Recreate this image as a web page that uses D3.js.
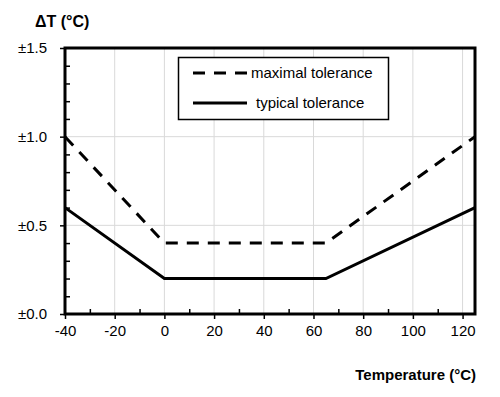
<!DOCTYPE html>
<html>
<head>
<meta charset="utf-8">
<script src="https://cdn.jsdelivr.net/npm/d3@7"></script>
<style>
  body { margin: 0; background: #fff; }
  svg text { font-family: "Liberation Sans", Arial, sans-serif; fill: #000; }
</style>
</head>
<body>
<div id="app"></div>
<script>
// temperature breakpoints (°C) and tolerance values (±°C)
const temps = [-40, 0, 65, 125];
const maxTol = [1.0, 0.4, 0.4, 1.0];
const typTol = [0.6, 0.2, 0.2, 0.6];
const xTicks = [-40, -20, 0, 20, 40, 60, 80, 100, 120];
const yTicks = [0, 0.5, 1.0, 1.5];
const seriesNames = ['maximal tolerance', 'typical tolerance'];

const width = 500;
const height = 397;

const svg = d3.select('#app').append('svg')
	.attr('width', width)
	.attr('height', height);

const x = d3.scaleLinear().domain([-40, 125]).range([65, 475]);
const y = d3.scaleLinear().domain([0, 1.5]).range([314, 48]);

// grid
svg.append('g')
	.selectAll('line')
	.data(xTicks.filter((d) => d > -40))
	.join('line')
	.attr('x1', (d) => x(d)).attr('x2', (d) => x(d))
	.attr('y1', y(0)).attr('y2', y(1.5))
	.attr('stroke', '#d9d9d9').attr('stroke-width', 1);

svg.append('g')
	.selectAll('line')
	.data(yTicks.filter((d) => d > 0 && d < 1.5))
	.join('line')
	.attr('x1', x(-40)).attr('x2', x(125))
	.attr('y1', (d) => y(d)).attr('y2', (d) => y(d))
	.attr('stroke', '#d9d9d9').attr('stroke-width', 1);

// minor ticks (inside)
const minorX = d3.range(-30, 125, 20);
svg.append('g')
	.attr('transform', `translate(0,${y(0)})`)
	.call(d3.axisBottom(x).tickValues(minorX).tickSize(-5).tickFormat(''))
	.call((g) => g.select('.domain').remove())
	.call((g) => g.selectAll('line').attr('stroke', '#000').attr('stroke-width', 1.5));

const minorY = d3.range(0.1, 1.5, 0.1).filter((d) => Math.abs(d * 2 - Math.round(d * 2)) > 0.01);
svg.append('g')
	.attr('transform', `translate(${x(-40)},0)`)
	.call(d3.axisLeft(y).tickValues(minorY).tickSize(-5).tickFormat(''))
	.call((g) => g.select('.domain').remove())
	.call((g) => g.selectAll('line').attr('stroke', '#000').attr('stroke-width', 1.5));

// major axes
svg.append('g')
	.attr('transform', `translate(0,${y(0)})`)
	.call(d3.axisBottom(x).tickValues(xTicks).tickSize(5).tickPadding(6)
		.tickFormat((d) => String(d)))
	.call((g) => g.select('.domain').remove())
	.call((g) => g.selectAll('line').attr('stroke', '#000').attr('stroke-width', 1.5))
	.call((g) => g.selectAll('text').attr('font-size', 15).attr('fill', '#000')
		.attr('font-family', '"Liberation Sans", Arial, sans-serif'));

svg.append('g')
	.attr('transform', `translate(${x(-40)},0)`)
	.call(d3.axisLeft(y).tickValues(yTicks).tickSize(5).tickPadding(13)
		.tickFormat((d) => '±' + d3.format('.1f')(d)))
	.call((g) => g.select('.domain').remove())
	.call((g) => g.selectAll('line').attr('stroke', '#000').attr('stroke-width', 1.5))
	.call((g) => g.selectAll('text').attr('font-size', 15).attr('fill', '#000')
		.attr('font-family', '"Liberation Sans", Arial, sans-serif'));

// data lines
const line = d3.line()
	.x((d) => x(d[0]))
	.y((d) => y(d[1]));

svg.append('path')
	.datum(temps.map((t, i) => [t, maxTol[i]]))
	.attr('d', line)
	.attr('fill', 'none')
	.attr('stroke', '#000')
	.attr('stroke-width', 3)
	.attr('stroke-dasharray', '12,9');

svg.append('path')
	.datum(temps.map((t, i) => [t, typTol[i]]))
	.attr('d', line)
	.attr('fill', 'none')
	.attr('stroke', '#000')
	.attr('stroke-width', 3);

// frame
svg.append('rect')
	.attr('x', x(-40)).attr('y', y(1.5))
	.attr('width', x(125) - x(-40)).attr('height', y(0) - y(1.5))
	.attr('fill', 'none')
	.attr('stroke', '#000')
	.attr('stroke-width', 3);

// legend
const legend = svg.append('g');
legend.append('rect')
	.attr('x', 178.5).attr('y', 57.5)
	.attr('width', 210).attr('height', 62)
	.attr('fill', '#fff')
	.attr('stroke', '#000')
	.attr('stroke-width', 1.5);

const legendItems = legend.selectAll('g.item')
	.data(seriesNames)
	.join('g')
	.attr('class', 'item')
	.attr('transform', (d, i) => `translate(0,${73 + i * 30})`);

legendItems.append('line')
	.attr('x1', 193).attr('x2', 247)
	.attr('stroke', '#000')
	.attr('stroke-width', 3)
	.attr('stroke-dasharray', (d, i) => (i === 0 ? '12,9' : null));

legendItems.append('text')
	.attr('x', (d, i) => (i === 0 ? 251 : 256))
	.attr('dy', '0.35em')
	.attr('font-size', 15)
	.text((d) => d);

// axis titles
svg.append('text')
	.attr('x', 35).attr('y', 27)
	.attr('font-size', 16)
	.attr('font-weight', 'bold')
	.text('ΔT (°C)');

svg.append('text')
	.attr('x', 476).attr('y', 380)
	.attr('text-anchor', 'end')
	.attr('font-size', 15)
	.attr('font-weight', 'bold')
	.text('Temperature (°C)');
</script>
</body>
</html>
